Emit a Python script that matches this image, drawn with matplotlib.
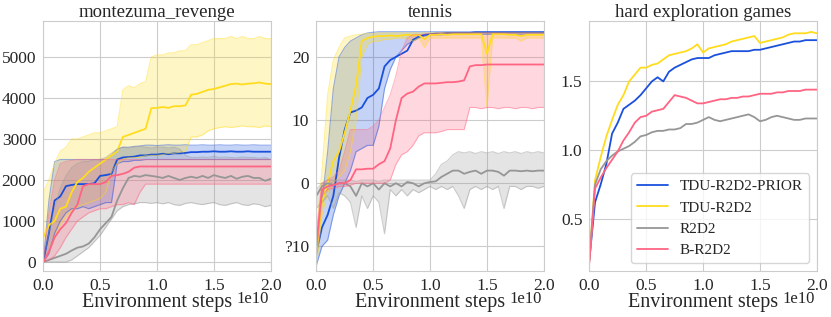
import numpy as np
import matplotlib
matplotlib.use("Agg")
import matplotlib.pyplot as plt
import seaborn as sns

sns.set_style("whitegrid")
plt.rcParams['font.family'] = ['Liberation Serif', 'DejaVu Serif']

# environment steps (x1e10), shared by every curve
steps = np.linspace(0, 2.0, 41) * 1e10

names = ['TDU-R2D2-PRIOR', 'TDU-R2D2', 'R2D2', 'B-R2D2']
colors = ['#1a50dc', '#ffdc1e', '#969696', '#ff6482']

# ---- montezuma_revenge: mean, low, high ----
mz_blue = [0, 700, 1500, 1600, 1850, 1880, 1900, 1900, 1900, 1920, 2100, 2120, 2150, 2500, 2550, 2560, 2570, 2600, 2600, 2620,
           2620, 2640, 2630, 2650, 2650, 2660, 2680, 2680, 2690, 2690, 2700, 2690, 2690, 2700, 2690, 2690, 2700, 2690, 2690, 2690, 2690]
mz_blue_lo = [0, 200, 700, 1000, 1200, 1300, 1300, 1350, 1300, 1350, 1400, 1450, 1450, 2400, 2450, 2450, 2480, 2480, 2500, 2500,
              2500, 2500, 2500, 2500, 2500, 2500, 2500, 2500, 2500, 2500, 2500, 2500, 2500, 2500, 2500, 2500, 2500, 2500, 2500, 2500, 2500]
mz_blue_hi = [0, 1500, 2450, 2500, 2500, 2500, 2500, 2500, 2500, 2500, 2500, 2500, 2600, 2750, 2800, 2800, 2820, 2830, 2850, 2850,
              2840, 2850, 2860, 2850, 2850, 2860, 2850, 2850, 2860, 2850, 2850, 2860, 2850, 2850, 2860, 2850, 2850, 2860, 2850, 2850, 2850]

mz_yellow = [600, 900, 1000, 1300, 1350, 1700, 1950, 2050, 2200, 2300, 2400, 2500, 2600, 2700, 3050, 3100, 3150, 3200, 3250, 3750,
             3760, 3780, 3760, 3800, 3800, 3820, 4080, 4100, 4150, 4200, 4220, 4260, 4300, 4340, 4350, 4330, 4350, 4360, 4380, 4350, 4340]
mz_yellow_lo = [0, 250, 600, 900, 1100, 1250, 1350, 1400, 1450, 1500, 1550, 1700, 2200, 2400, 2500, 2550, 2550, 2550, 2600, 2600,
                2600, 2620, 2650, 2650, 2680, 2700, 3050, 3050, 3100, 3200, 3250, 3280, 3300, 3280, 3300, 3320, 3300, 3300, 3280, 3320, 3300]
mz_yellow_hi = [1700, 2000, 2400, 2700, 2800, 3000, 3000, 3050, 3100, 3150, 3150, 3200, 3250, 3300, 4200, 4300, 4250, 4350, 4400, 5000,
                5050, 5050, 5100, 5100, 5150, 5150, 5300, 5300, 5350, 5400, 5450, 5450, 5450, 5500, 5450, 5500, 5450, 5450, 5500, 5450, 5450]

mz_grey = [0, 50, 100, 150, 200, 280, 350, 380, 450, 600, 800, 950, 1100, 1500, 1800, 2050, 2100, 2080, 2120, 2100,
           2080, 2050, 2100, 2050, 2000, 2050, 2080, 2050, 2100, 2050, 2120, 2080, 2050, 2100, 2030, 2080, 2100, 2050, 2050, 1980, 2030]
mz_grey_lo = [0, 0, 0, 0, 0, 50, 150, 250, 350, 500, 650, 850, 1050, 1250, 1350, 1400, 1420, 1450, 1450, 1430,
              1450, 1420, 1450, 1400, 1380, 1430, 1450, 1420, 1400, 1430, 1450, 1400, 1380, 1420, 1450, 1400, 1380, 1420, 1400, 1350, 1380]
mz_grey_hi = [0, 700, 1300, 1800, 2100, 2300, 2400, 2450, 2450, 2500, 2500, 2550, 2650, 2750, 2800, 2780, 2800, 2820, 2800, 2780,
              2800, 2800, 2780, 2800, 2750, 2600, 2550, 2550, 2560, 2550, 2580, 2550, 2560, 2550, 2540, 2560, 2550, 2550, 2530, 2550, 2500]

mz_pink = [0, 250, 600, 800, 950, 1200, 1400, 1850, 1900, 1900, 1900, 1950, 2100, 2120, 2150, 2200, 2300, 2330, 2330, 2330,
           2330, 2330, 2330, 2330, 2330, 2330, 2330, 2330, 2330, 2330, 2330, 2330, 2330, 2330, 2330, 2330, 2330, 2330, 2330, 2330, 2330]
mz_pink_lo = [0, 50, 150, 350, 600, 800, 1000, 1100, 1200, 1250, 1300, 1300, 1350, 1400, 1400, 1450, 1400, 1700, 1900, 1900,
              1900, 1900, 1900, 1900, 1900, 1900, 1900, 1900, 1900, 1900, 1900, 1900, 1900, 1900, 1900, 1900, 1900, 1900, 1900, 1900, 1900]
mz_pink_hi = [0, 1200, 2000, 2400, 2450, 2480, 2500, 2500, 2500, 2500, 2500, 2500, 2500, 2500, 2500, 2500, 2500, 2500, 2500, 2500,
              2500, 2500, 2500, 2500, 2500, 2500, 2500, 2500, 2500, 2500, 2500, 2500, 2500, 2500, 2500, 2500, 2500, 2500, 2500, 2500, 2500]

# ---- tennis: mean, low, high ----
tn_blue = [-11, -7, -5, -2, 4, 8.5, 11.2, 11.5, 12, 13.5, 14, 15, 18.5, 19.5, 20, 20.5, 21, 22.7, 23.2, 23.5,
           23.6, 23.7, 23.7, 23.8, 23.8, 23.8, 23.8, 23.8, 23.9, 23.9, 23.9, 23.9, 23.9, 23.9, 23.9, 23.9, 23.9, 23.9, 23.9, 23.9, 23.9]
tn_blue_lo = [-13, -10, -9, -5, -2, 0, 2, 5, 5.5, 6, 6, 9, 15, 18, 20, 21, 22, 22.5, 23, 23.3,
              23.5, 23.5, 23.5, 23.6, 23.6, 23.6, 23.6, 23.6, 23.6, 23.6, 23.6, 23.6, 23.6, 23.6, 23.6, 23.6, 23.6, 23.6, 23.6, 23.6, 23.6]
tn_blue_hi = [-9, -3, 5, 15, 20, 21.5, 22.5, 23, 23.5, 23.8, 23.9, 24, 24, 24, 24, 24, 24, 24, 24, 24,
              24, 24, 24, 24, 24, 24, 24, 24, 24, 24, 24, 24, 24, 24, 24, 24, 24, 24, 24, 24, 24]

tn_yellow = [-11.5, -3, 0, 3.5, 5, 8, 11.5, 15.5, 22.5, 23, 23.2, 23.3, 23.3, 23.4, 23.3, 23.4, 23.5, 23.4, 23.5, 22.8,
             23.5, 23.5, 23.6, 23.5, 23.6, 23.6, 23.6, 23.6, 23.6, 23.6, 20.5, 23.6, 23.6, 23.6, 23.5, 23.5, 23.3, 23.5, 23.5, 23.5, 23.5]
tn_yellow_lo = [-13.5, -5, -1.5, 0, 1, 2, 5, 10, 20, 22, 22.5, 22.5, 22.8, 22.8, 23, 23, 23, 22.5, 23, 21.5,
                23, 23, 23, 23, 23, 23, 23, 23, 23, 23, 12, 23, 23, 23, 23, 23, 22.5, 23, 23, 23, 23]
tn_yellow_hi = [-8, 2, 14, 19.5, 21.5, 23, 23.3, 23.5, 23.6, 23.7, 23.7, 23.8, 23.8, 23.8, 23.8, 23.8, 23.8, 23.8, 23.8, 23.8,
                23.8, 23.8, 23.8, 23.8, 23.8, 23.8, 23.8, 23.8, 23.8, 23.8, 23.8, 23.8, 23.8, 23.8, 23.8, 23.8, 23.8, 23.8, 23.8, 23.8, 23.8]

tn_grey = [-2, -0.5, 0, -0.3, 0, 0, -0.5, -2, 0, -0.5, 0, -1, 0, -0.5, 0, -0.5, 0.2, 0, -0.5, 0,
           0.2, 0.3, 1, 1.5, 2, 2, 1.5, 1.8, 2, 1.5, 2, 2, 1.8, 1.2, 2, 2, 1.9, 2, 1.9, 2, 2]
tn_grey_lo = [-4, -3, -2, -4, -1.5, -2, -3, -7, -2, -4, -2, -3, -8, -1, -2, -1, -2, -1, -1.5, -1,
              -0.5, -1, -0.5, -1, -0.5, -2, -4, -1, -0.5, -1, -0.5, -1, -0.5, -4, -0.5, -0.5, -1, -0.5, -0.5, -0.8, -0.5]
tn_grey_hi = [-1, 0, 0.5, 0.5, 0.5, 0.5, 0.5, 0.3, 0.5, 0.5, 0.5, 0.3, 0.5, 0.5, 0.5, 0.5, 0.5, 0.5, 0.5, 0.5,
              0.5, 1.5, 3, 3.5, 4.5, 5, 4.8, 5, 4.7, 5, 4.8, 5, 4.7, 5, 4.8, 5, 4.7, 5, 4.8, 5, 4.8]

tn_pink = [-10, -1, -0.5, -0.3, 0, 0, 0.5, 2.2, 2.2, 2.3, 2.3, 3, 3.5, 5.5, 10, 13.5, 14.2, 14.5, 15.3, 15.8,
           15.8, 15.8, 15.9, 16, 16, 16.1, 16.3, 18.5, 18.7, 18.7, 18.8, 18.8, 18.8, 18.8, 18.8, 18.8, 18.8, 18.8, 18.8, 18.8, 18.8]
tn_pink_lo = [-12, -2, -1, -0.8, -0.5, -0.5, -0.3, 0, 0, 0, 0, 0, 0, 0.5, 3, 4.5, 5, 6, 7.5, 8,
              8, 8, 8.2, 8.5, 8.5, 8.5, 8.5, 12, 12, 11.8, 12, 12, 11.8, 12, 12, 11.8, 12, 12, 11.8, 12, 12]
tn_pink_hi = [-8, 0, 0.5, 1, 2, 5, 8.5, 8.5, 8.5, 8.5, 9, 10, 12, 14, 17, 21, 23, 23.5, 23.5, 23.6,
              23.7, 23.7, 23.8, 23.8, 23.8, 23.8, 23.8, 23.8, 23.8, 23.8, 23.8, 23.8, 23.8, 23.8, 23.8, 23.8, 23.8, 23.8, 23.8, 23.8, 23.8]

# ---- hard exploration games: mean only ----
he_blue = [0.2, 0.62, 0.75, 0.9, 1.12, 1.2, 1.3, 1.33, 1.36, 1.4, 1.45, 1.5, 1.53, 1.5, 1.57, 1.6, 1.62, 1.64, 1.66, 1.67,
           1.67, 1.67, 1.69, 1.7, 1.71, 1.72, 1.72, 1.72, 1.72, 1.73, 1.73, 1.74, 1.75, 1.76, 1.77, 1.78, 1.79, 1.79, 1.8, 1.8, 1.8]
he_yellow = [0.2, 0.78, 0.95, 1.1, 1.22, 1.33, 1.4, 1.5, 1.55, 1.6, 1.6, 1.62, 1.63, 1.66, 1.69, 1.7, 1.71, 1.72, 1.74, 1.77,
             1.71, 1.74, 1.75, 1.76, 1.77, 1.79, 1.8, 1.81, 1.82, 1.83, 1.78, 1.79, 1.8, 1.81, 1.82, 1.84, 1.85, 1.85, 1.85, 1.86, 1.85]
he_grey = [0.2, 0.75, 0.86, 0.92, 0.96, 0.99, 1.01, 1.03, 1.06, 1.1, 1.11, 1.13, 1.14, 1.14, 1.15, 1.15, 1.16, 1.19, 1.19, 1.2,
           1.22, 1.24, 1.22, 1.21, 1.22, 1.23, 1.24, 1.25, 1.26, 1.24, 1.21, 1.22, 1.24, 1.25, 1.24, 1.23, 1.22, 1.22, 1.23, 1.23, 1.23]
he_pink = [0.18, 0.72, 0.8, 0.87, 0.93, 0.99, 1.07, 1.13, 1.2, 1.24, 1.25, 1.28, 1.29, 1.3, 1.35, 1.4, 1.39, 1.38, 1.36, 1.34,
           1.34, 1.35, 1.36, 1.37, 1.37, 1.38, 1.38, 1.39, 1.39, 1.4, 1.41, 1.41, 1.41, 1.42, 1.42, 1.43, 1.43, 1.43, 1.44, 1.44, 1.44]

mz = [(mz_blue, mz_blue_lo, mz_blue_hi), (mz_yellow, mz_yellow_lo, mz_yellow_hi),
      (mz_grey, mz_grey_lo, mz_grey_hi), (mz_pink, mz_pink_lo, mz_pink_hi)]
tn = [(tn_blue, tn_blue_lo, tn_blue_hi), (tn_yellow, tn_yellow_lo, tn_yellow_hi),
      (tn_grey, tn_grey_lo, tn_grey_hi), (tn_pink, tn_pink_lo, tn_pink_hi)]
he = [he_blue, he_yellow, he_grey, he_pink]

fig, axes = plt.subplots(1, 3, figsize=(8.31, 3.17), dpi=100)
plt.subplots_adjust(left=0.052, right=0.983, bottom=0.145, top=0.934, wspace=0.2)

for ax, data, title in zip(axes[:2], [mz, tn], ['montezuma_revenge', 'tennis']):
    for (mean, lo, hi), c in zip(data, colors):
        ax.fill_between(steps, lo, hi, color=c, alpha=0.25, linewidth=0)
        # faint band edges
        ax.plot(steps, lo, color=c, lw=0.8, alpha=0.45)
        ax.plot(steps, hi, color=c, lw=0.8, alpha=0.45)
        ax.plot(steps, mean, color=c, lw=1.3)
    ax.set_title(title, fontsize=13.5, pad=3)

for mean, c, n in zip(he, colors, names):
    axes[2].plot(steps, mean, color=c, lw=1.3, label=n)
axes[2].set_title('hard exploration games', fontsize=13.5, pad=3)
axes[2].legend(loc='lower right', fontsize=11, frameon=True)

axes[0].set_ylim(-220, 5880)
axes[0].set_yticks([0, 1000, 2000, 3000, 4000, 5000])
axes[1].set_ylim(-13.9, 25.7)
axes[1].set_yticks([-10, 0, 10, 20])
axes[1].set_yticklabels(['?10', '0', '10', '20'])
axes[2].set_ylim(0.12, 1.94)
axes[2].set_yticks([0.5, 1.0, 1.5])

for ax in axes:
    ax.set_xlim(0, 2e10)
    ax.set_xticks([0, 0.5e10, 1e10, 1.5e10, 2e10])
    ax.set_xticklabels(['0.0', '0.5', '1.0', '1.5', '2.0'])
    ax.set_xlabel('Environment steps', fontsize=14.5, labelpad=-1)
    ax.tick_params(labelsize=12.5, pad=1.5)
    # scale marker sits next to the axis label
    ax.text(0.99, -0.078, '1e10', transform=ax.transAxes, ha='right', va='top',
            fontsize=12, color='#262626')

plt.savefig('out.png', dpi=100)
